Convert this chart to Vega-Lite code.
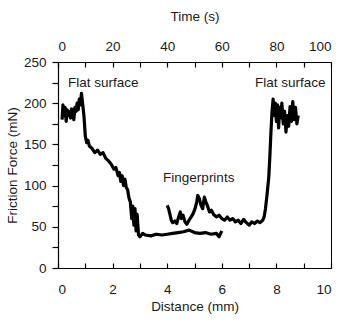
{
  "$schema": "https://vega.github.io/schema/vega-lite/v6.json",
  "width": 273,
  "height": 206,
  "autosize": {"type": "none"},
  "padding": {"left": 58, "top": 62, "right": 8, "bottom": 56},
  "background": "white",
  "config": {
    "font": "Liberation Sans",
    "view": {"stroke": "black", "strokeWidth": 1},
    "axis": {
      "grid": false,
      "labelFont": "Liberation Sans",
      "titleFont": "Liberation Sans",
      "labelFontSize": 13.5,
      "titleFontSize": 13.5,
      "titleFontWeight": "normal",
      "labelColor": "#1a1a1a",
      "titleColor": "#1a1a1a",
      "domainColor": "black",
      "tickColor": "black",
      "domainWidth": 1.2,
      "tickWidth": 1.2
    }
  },
  "datasets": {
    "lines": [
      {"d": 0.15, "f": 180, "s": "a"}, {"d": 0.18, "f": 198, "s": "a"}, {"d": 0.22, "f": 185, "s": "a"}, {"d": 0.26, "f": 195, "s": "a"},
      {"d": 0.30, "f": 178, "s": "a"}, {"d": 0.34, "f": 192, "s": "a"}, {"d": 0.38, "f": 185, "s": "a"}, {"d": 0.42, "f": 190, "s": "a"},
      {"d": 0.46, "f": 182, "s": "a"}, {"d": 0.50, "f": 193, "s": "a"}, {"d": 0.54, "f": 188, "s": "a"}, {"d": 0.58, "f": 180, "s": "a"},
      {"d": 0.62, "f": 195, "s": "a"}, {"d": 0.66, "f": 190, "s": "a"}, {"d": 0.70, "f": 200, "s": "a"}, {"d": 0.74, "f": 192, "s": "a"},
      {"d": 0.78, "f": 205, "s": "a"}, {"d": 0.82, "f": 198, "s": "a"}, {"d": 0.86, "f": 212, "s": "a"}, {"d": 0.90, "f": 200, "s": "a"},
      {"d": 0.95, "f": 185, "s": "a"}, {"d": 1.00, "f": 160, "s": "a"}, {"d": 1.05, "f": 152, "s": "a"}, {"d": 1.10, "f": 155, "s": "a"},
      {"d": 1.15, "f": 148, "s": "a"}, {"d": 1.25, "f": 145, "s": "a"}, {"d": 1.35, "f": 140, "s": "a"}, {"d": 1.45, "f": 143, "s": "a"},
      {"d": 1.55, "f": 138, "s": "a"}, {"d": 1.65, "f": 140, "s": "a"}, {"d": 1.75, "f": 133, "s": "a"}, {"d": 1.85, "f": 130, "s": "a"},
      {"d": 1.95, "f": 126, "s": "a"}, {"d": 2.05, "f": 120, "s": "a"}, {"d": 2.12, "f": 122, "s": "a"}, {"d": 2.20, "f": 112, "s": "a"},
      {"d": 2.25, "f": 116, "s": "a"}, {"d": 2.30, "f": 105, "s": "a"}, {"d": 2.35, "f": 112, "s": "a"}, {"d": 2.40, "f": 100, "s": "a"},
      {"d": 2.45, "f": 108, "s": "a"}, {"d": 2.50, "f": 98, "s": "a"}, {"d": 2.55, "f": 95, "s": "a"}, {"d": 2.60, "f": 85, "s": "a"},
      {"d": 2.65, "f": 80, "s": "a"}, {"d": 2.70, "f": 60, "s": "a"}, {"d": 2.74, "f": 75, "s": "a"}, {"d": 2.78, "f": 52, "s": "a"},
      {"d": 2.82, "f": 72, "s": "a"}, {"d": 2.86, "f": 45, "s": "a"}, {"d": 2.90, "f": 65, "s": "a"}, {"d": 2.95, "f": 40, "s": "a"},
      {"d": 3.00, "f": 38, "s": "a"}, {"d": 3.10, "f": 42, "s": "a"}, {"d": 3.20, "f": 40, "s": "a"}, {"d": 3.40, "f": 39, "s": "a"},
      {"d": 3.60, "f": 41, "s": "a"}, {"d": 3.80, "f": 40, "s": "a"}, {"d": 4.00, "f": 41, "s": "a"}, {"d": 4.20, "f": 42, "s": "a"},
      {"d": 4.40, "f": 43, "s": "a"}, {"d": 4.60, "f": 44, "s": "a"}, {"d": 4.80, "f": 46, "s": "a"}, {"d": 5.00, "f": 43, "s": "a"},
      {"d": 5.20, "f": 42, "s": "a"}, {"d": 5.40, "f": 43, "s": "a"}, {"d": 5.60, "f": 41, "s": "a"}, {"d": 5.80, "f": 42, "s": "a"},
      {"d": 5.90, "f": 38, "s": "a"}, {"d": 6.00, "f": 45, "s": "a"},
      {"d": 4.00, "f": 76, "s": "b"}, {"d": 4.05, "f": 72, "s": "b"}, {"d": 4.10, "f": 65, "s": "b"}, {"d": 4.15, "f": 58, "s": "b"},
      {"d": 4.20, "f": 55, "s": "b"}, {"d": 4.28, "f": 57, "s": "b"}, {"d": 4.35, "f": 54, "s": "b"}, {"d": 4.42, "f": 62, "s": "b"},
      {"d": 4.48, "f": 68, "s": "b"}, {"d": 4.52, "f": 60, "s": "b"}, {"d": 4.58, "f": 64, "s": "b"}, {"d": 4.65, "f": 56, "s": "b"},
      {"d": 4.72, "f": 53, "s": "b"}, {"d": 4.80, "f": 58, "s": "b"}, {"d": 4.88, "f": 62, "s": "b"}, {"d": 4.95, "f": 66, "s": "b"},
      {"d": 5.02, "f": 72, "s": "b"}, {"d": 5.08, "f": 80, "s": "b"}, {"d": 5.12, "f": 88, "s": "b"}, {"d": 5.18, "f": 84, "s": "b"},
      {"d": 5.24, "f": 76, "s": "b"}, {"d": 5.30, "f": 72, "s": "b"}, {"d": 5.36, "f": 86, "s": "b"}, {"d": 5.42, "f": 80, "s": "b"},
      {"d": 5.48, "f": 75, "s": "b"}, {"d": 5.55, "f": 68, "s": "b"}, {"d": 5.62, "f": 70, "s": "b"}, {"d": 5.70, "f": 65, "s": "b"},
      {"d": 5.80, "f": 62, "s": "b"}, {"d": 5.90, "f": 64, "s": "b"}, {"d": 6.00, "f": 60, "s": "b"}, {"d": 6.10, "f": 58, "s": "b"},
      {"d": 6.20, "f": 62, "s": "b"}, {"d": 6.30, "f": 58, "s": "b"}, {"d": 6.40, "f": 60, "s": "b"}, {"d": 6.50, "f": 56, "s": "b"},
      {"d": 6.60, "f": 58, "s": "b"}, {"d": 6.70, "f": 54, "s": "b"}, {"d": 6.80, "f": 59, "s": "b"}, {"d": 6.90, "f": 55, "s": "b"},
      {"d": 7.00, "f": 52, "s": "b"}, {"d": 7.10, "f": 56, "s": "b"}, {"d": 7.20, "f": 54, "s": "b"}, {"d": 7.30, "f": 57, "s": "b"},
      {"d": 7.40, "f": 55, "s": "b"}, {"d": 7.50, "f": 58, "s": "b"}, {"d": 7.55, "f": 62, "s": "b"}, {"d": 7.60, "f": 72, "s": "b"},
      {"d": 7.66, "f": 90, "s": "b"}, {"d": 7.72, "f": 110, "s": "b"}, {"d": 7.76, "f": 135, "s": "b"}, {"d": 7.80, "f": 165, "s": "b"},
      {"d": 7.84, "f": 190, "s": "b"}, {"d": 7.88, "f": 205, "s": "b"}, {"d": 7.92, "f": 185, "s": "b"}, {"d": 7.96, "f": 200, "s": "b"},
      {"d": 8.00, "f": 178, "s": "b"}, {"d": 8.04, "f": 198, "s": "b"}, {"d": 8.08, "f": 170, "s": "b"}, {"d": 8.12, "f": 195, "s": "b"},
      {"d": 8.16, "f": 182, "s": "b"}, {"d": 8.20, "f": 200, "s": "b"}, {"d": 8.25, "f": 175, "s": "b"}, {"d": 8.30, "f": 190, "s": "b"},
      {"d": 8.35, "f": 165, "s": "b"}, {"d": 8.40, "f": 185, "s": "b"}, {"d": 8.45, "f": 172, "s": "b"}, {"d": 8.50, "f": 196, "s": "b"},
      {"d": 8.55, "f": 178, "s": "b"}, {"d": 8.60, "f": 202, "s": "b"}, {"d": 8.65, "f": 180, "s": "b"}, {"d": 8.70, "f": 195, "s": "b"},
      {"d": 8.75, "f": 175, "s": "b"}, {"d": 8.80, "f": 185, "s": "b"}
    ],
    "labels": [
      {"d": 0.37, "f": 225, "t": "Flat surface"},
      {"d": 7.22, "f": 225, "t": "Flat surface"},
      {"d": 3.85, "f": 109, "t": "Fingerprints"}
    ]
  },
  "layer": [
    {
      "data": {"name": "lines"},
      "mark": {"type": "line", "color": "black", "strokeWidth": 3.2, "strokeJoin": "round"},
      "encoding": {
        "x": {
          "field": "d", "type": "quantitative",
          "scale": {"domain": [0, 10], "nice": false},
          "axis": {
            "title": "Distance (mm)", "orient": "bottom",
            "values": [0, 1, 2, 3, 4, 5, 6, 7, 8, 9, 10],
            "labelExpr": "datum.value % 2 == 0 ? datum.label : ''",
            "tickSize": -5, "labelPadding": 19, "titlePadding": 4
          }
        },
        "y": {
          "field": "f", "type": "quantitative",
          "scale": {"domain": [0, 250], "nice": false},
          "axis": {
            "title": "Friction Force (mN)",
            "values": [0, 25, 50, 75, 100, 125, 150, 175, 200, 225, 250],
            "labelExpr": "datum.value % 50 == 0 ? datum.label : ''",
            "tickSize": 6, "labelPadding": 6, "titlePadding": 4
          }
        },
        "detail": {"field": "s"}
      }
    },
    {
      "data": {"name": "labels"},
      "mark": {"type": "text", "align": "left", "baseline": "middle", "font": "Liberation Sans", "fontSize": 13.5, "color": "#1a1a1a"},
      "encoding": {
        "x": {
          "field": "d", "type": "quantitative",
          "axis": {
            "title": "Time (s)", "orient": "top",
            "values": [0, 1, 2, 3, 4, 5, 6, 7, 8, 9, 10],
            "labelExpr": "datum.value % 2 == 0 ? format(datum.value * 10, 'd') : ''",
            "tickSize": -5, "labelPadding": 14, "titlePadding": 16
          }
        },
        "y": {"field": "f", "type": "quantitative", "axis": null},
        "text": {"field": "t"}
      }
    }
  ],
  "resolve": {"axis": {"x": "independent", "y": "independent"}}
}
